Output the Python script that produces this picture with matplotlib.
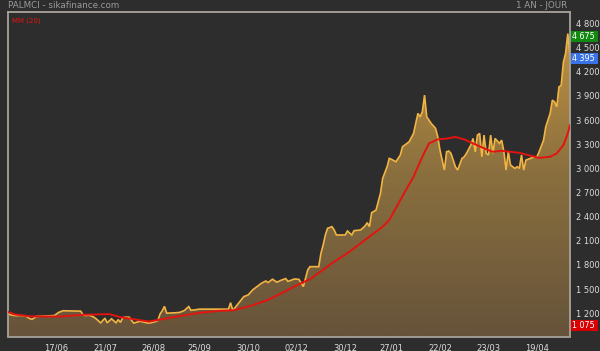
import numpy as np
import matplotlib
matplotlib.use('Agg')
import matplotlib.pyplot as plt
from matplotlib.colors import LinearSegmentedColormap
from matplotlib.ticker import FuncFormatter, FixedLocator
import matplotlib.transforms as mtransforms

# price vertices: trading-day index and closing price
days = [0, 1, 3, 6, 8, 10, 11, 13, 17, 21, 23, 25, 33, 34, 35, 37, 39, 40, 42, 44,
        45, 47, 49, 50, 51, 52, 53, 55, 57, 60, 62, 64, 67, 68, 69, 70, 71, 72, 76, 78,
        80, 82, 83, 87, 100, 101, 102, 107, 109, 111, 113, 115, 117, 118, 120, 122, 124, 126, 127, 130,
        132, 134, 136, 137, 141, 142, 143, 144, 145, 147, 148, 149, 153, 154, 156, 157, 160, 162, 163, 164,
        165, 167, 169, 170, 172, 173, 174, 176, 177, 178, 179, 181, 182, 184, 186, 187, 188, 189, 190, 191,
        192, 194, 195, 196, 198, 199, 200, 201, 203, 204, 206, 207, 208, 210, 211, 212, 213, 214, 215, 216,
        217, 218, 219, 220, 221, 223, 224, 225, 226, 227, 228, 230, 231, 232, 233, 234, 235, 237, 239, 240,
        241, 243, 244, 246, 247, 248, 249, 250, 251, 252, 253, 254, 255]
price = [1210, 1180, 1170, 1170, 1165, 1130, 1125, 1160, 1165, 1170, 1210, 1230, 1225, 1180, 1170, 1175, 1150, 1130, 1080, 1138,
         1080, 1130, 1080, 1120, 1085, 1140, 1150, 1150, 1076, 1100, 1085, 1076, 1095, 1110, 1190, 1230, 1285, 1200, 1205, 1210,
         1233, 1282, 1235, 1250, 1250, 1330, 1233, 1406, 1427, 1489, 1530, 1572, 1600, 1580, 1622, 1585, 1610, 1630, 1595, 1625,
         1620, 1530, 1737, 1778, 1778, 1945, 2048, 2172, 2255, 2275, 2234, 2172, 2172, 2221, 2172, 2225, 2234, 2284, 2325, 2275,
         2449, 2482, 2690, 2876, 3020, 3124, 3112, 3082, 3124, 3165, 3269, 3310, 3330, 3434, 3683, 3640, 3703, 3910, 3640, 3600,
         3559, 3497, 3393, 3227, 2979, 3206, 3215, 3186, 3020, 2979, 3124, 3144, 3186, 3289, 3372, 3206, 3413, 3434, 3144, 3413,
         3186, 3165, 3413, 3186, 3372, 3310, 3351, 3206, 2979, 3206, 3041, 3000, 3020, 3000, 3165, 2979, 3103, 3124, 3144, 3144,
         3206, 3351, 3517, 3683, 3848, 3827, 3765, 4013, 4030, 4320, 4430, 4675, 4395]

# moving average vertices
mm_days = [0, 3, 10, 24, 34, 46, 51, 61, 64, 75, 87, 96, 102, 110, 118, 125, 132, 137, 147, 155,
           163, 170, 173, 178, 184, 188, 191, 195, 199, 203, 207, 211, 218, 220, 224, 232, 236, 241, 246, 249,
           252, 254, 255]
mm = [1215, 1185, 1160, 1158, 1180, 1188, 1150, 1108, 1096, 1150, 1205, 1229, 1235, 1290, 1365, 1460, 1560, 1622, 1820, 1965,
      2131, 2275, 2358, 2606, 2896, 3144, 3310, 3360, 3370, 3390, 3360, 3310, 3225, 3206, 3218, 3193, 3165, 3130, 3144, 3186,
      3289, 3434, 3537]

tick_days = [22, 44, 66, 87, 109, 131, 153, 174, 196, 218, 240]
tick_labels = ['17/06', '21/07', '26/08', '25/09', '30/10', '02/12', '30/12', '27/01', '22/02', '23/03', '19/04']
y_ticks = [1200, 1500, 1800, 2100, 2400, 2700, 3000, 3300, 3600, 3900, 4200, 4500, 4800]

price_max = 4675
price_last = 4395
price_min = 1075

bg = '#2d2d2d'
fig = plt.figure(figsize=(6, 3.51), dpi=100, facecolor=bg)
ax = fig.add_axes([8 / 600, 1 - 336.5 / 351, 562 / 600, (336.5 - 12.5) / 351])
ax.set_facecolor(bg)

ymin, ymax = 910, 4937
ax.set_xlim(0, 255)
ax.set_ylim(ymin, ymax)

# gradient area under the price
poly = ax.fill_between(days, price, ymin, color='none', lw=0)
cmap = LinearSegmentedColormap.from_list('gold', ['#66533a', '#8a6f3e', '#c69641'])
grad = np.linspace(0, 1, 256).reshape(-1, 1)
im = ax.imshow(grad, cmap=cmap, aspect='auto', origin='lower',
               extent=[0, 255, ymin, ymax], zorder=1)
path = poly.get_paths()[0]
im.set_clip_path(path, transform=ax.transData)

ax.plot(days, price, color='#f2b443', lw=1.2, zorder=2, solid_joinstyle='miter')
ax.plot(mm_days, mm, color='#e3140f', lw=1.4, zorder=3)

for sp in ax.spines.values():
    sp.set_color('#a8a39a')
    sp.set_linewidth(1.3)

ax.xaxis.set_major_locator(FixedLocator(tick_days))
ax.set_xticklabels(tick_labels)
ax.tick_params(axis='x', length=0, pad=5, labelsize=6, labelcolor='#dcdcdc')

ax.yaxis.tick_right()
ax.set_yticks(y_ticks)
ax.yaxis.set_major_formatter(FuncFormatter(lambda v, p: '{:,}'.format(int(v)).replace(',', ' ')))
ax.tick_params(axis='y', length=0, pad=4, labelsize=6, labelcolor='#dcdcdc')

# value flags on the right (drawn a little below the value, as on the site)
trans = mtransforms.blended_transform_factory(ax.transAxes, ax.transData)
shift = mtransforms.ScaledTranslation(0, -0.025, fig.dpi_scale_trans)
for val, col in [(price_max, '#128a12'), (price_last, '#3a73e8'), (price_min, '#d80000')]:
    ax.text(1.0035, val, '{:,}'.format(val).replace(',', ' ') + ' ', transform=trans + shift,
            ha='left', va='center', fontsize=5.8, color='white', zorder=5,
            bbox=dict(boxstyle='square,pad=0.12', fc=col, ec='none'))

fig.text(8 / 600, 1 - 6 / 351, 'PALMCI - sikafinance.com', ha='left', va='center',
         fontsize=6.3, color='#9a9a9a')
fig.text(567 / 600, 1 - 6 / 351, '1 AN - JOUR', ha='right', va='center',
         fontsize=6.3, color='#9a9a9a')
ax.text(0.007, 0.985, 'MM (20)', transform=ax.transAxes, ha='left', va='top',
        fontsize=5, color='#e3140f')

fig.savefig('out.png', dpi=100, facecolor=bg)
